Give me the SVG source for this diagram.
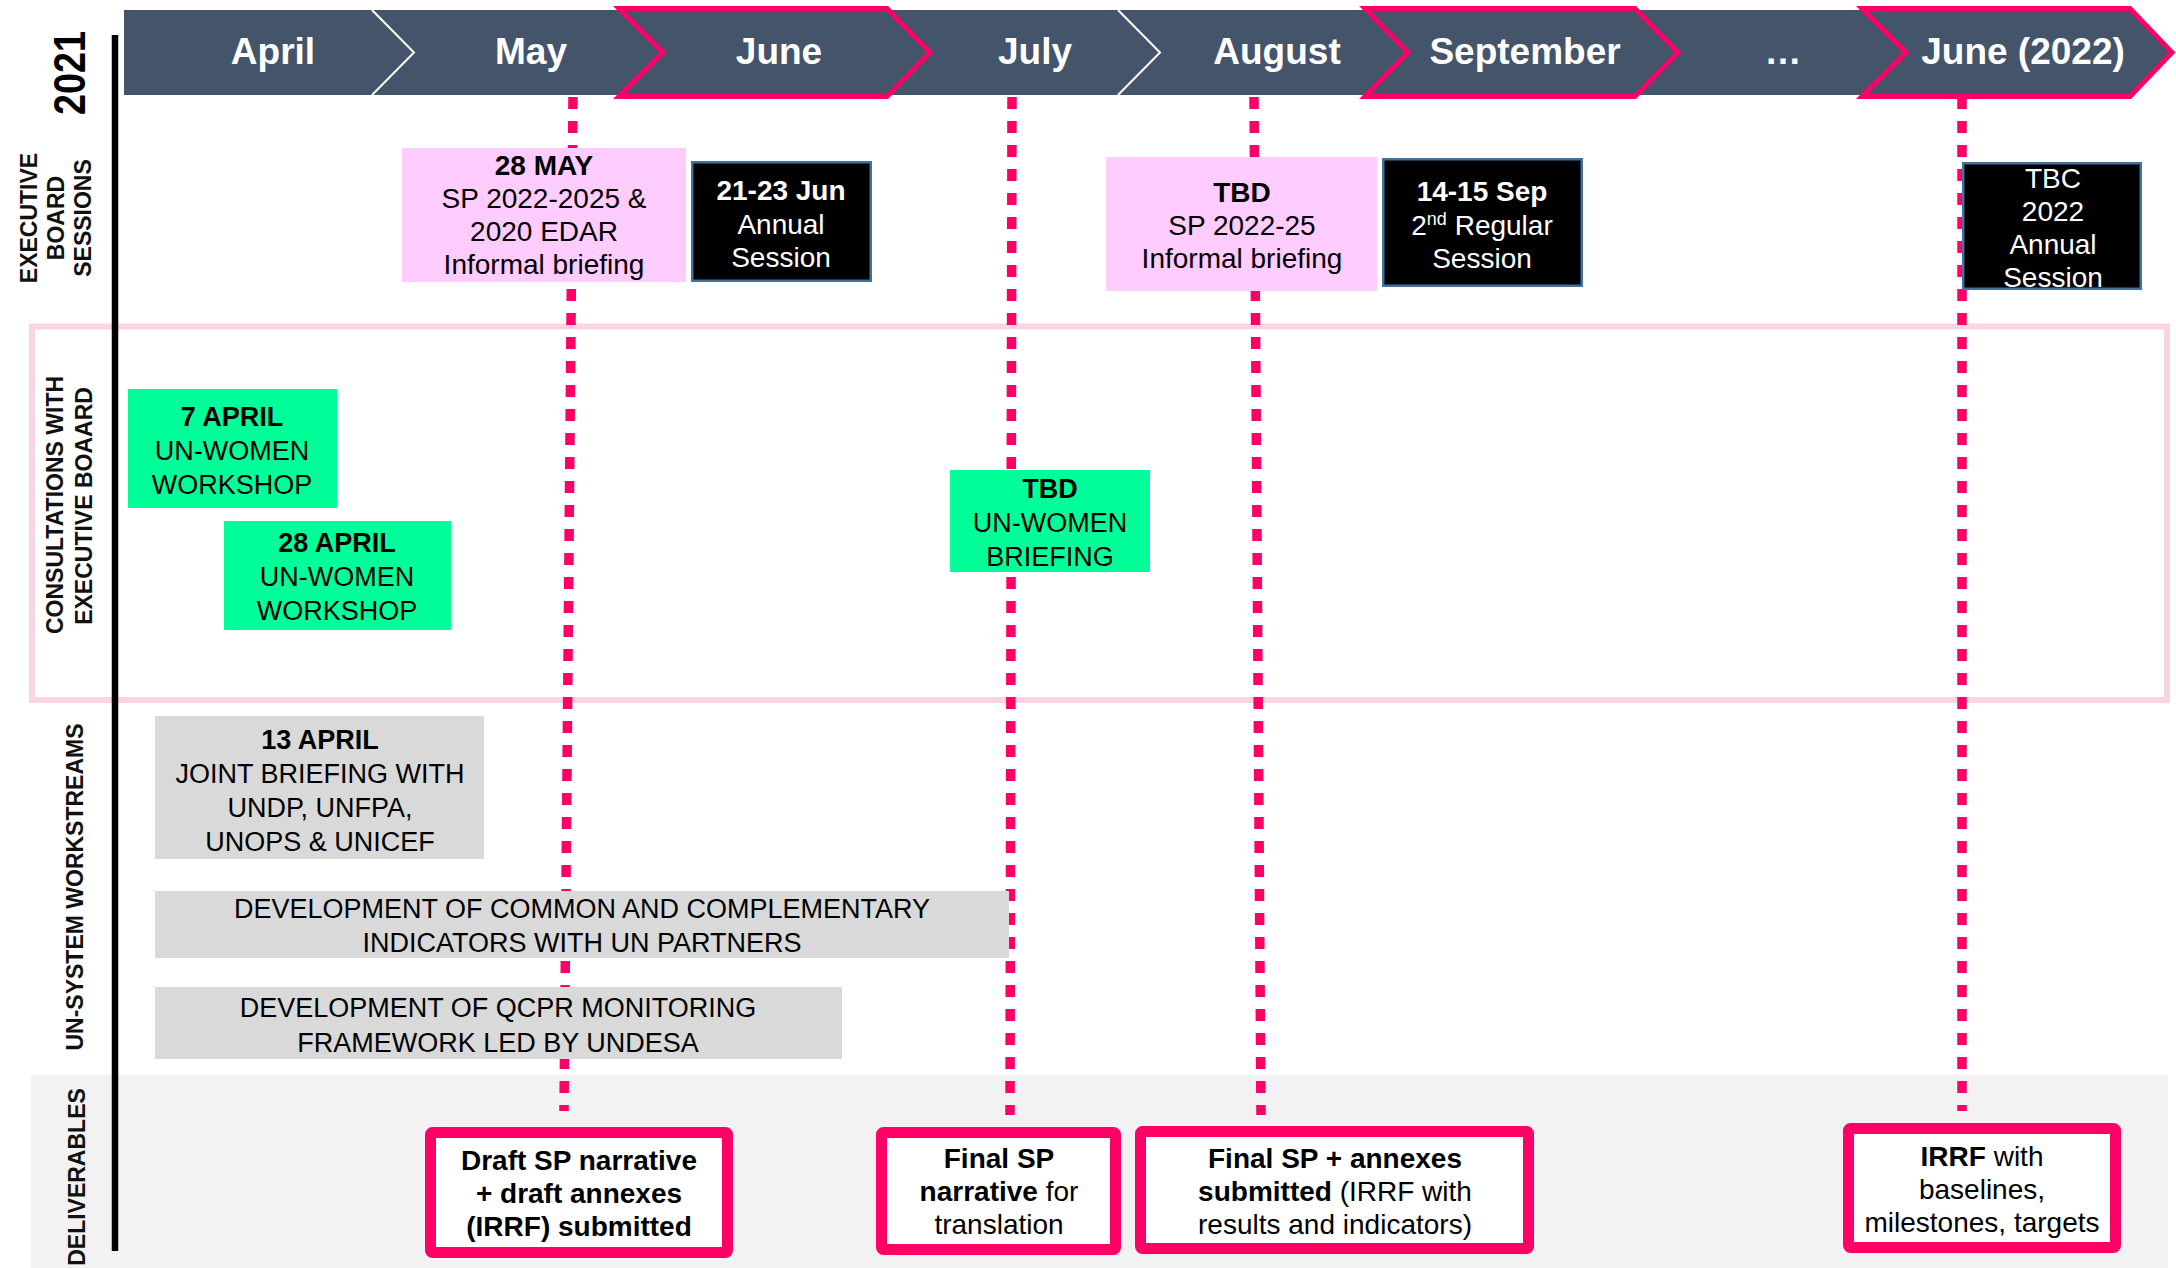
<svg xmlns="http://www.w3.org/2000/svg" width="2176" height="1268" viewBox="0 0 2176 1268">
<defs>
<style>
text{font-family:"Liberation Sans",Arial,sans-serif}
.m{font-size:37px;font-weight:bold;fill:#fff;text-anchor:middle}
.lab{font-size:23px;font-weight:bold;fill:#111;text-anchor:middle}
.t{font-size:28px;fill:#000;text-anchor:middle}
.tw{font-size:28px;fill:#fff;text-anchor:middle}
.t27{font-size:27px;fill:#000;text-anchor:middle}
.b{font-weight:bold}
.pinkbox{fill:#FFCCFF}
.blk{fill:#000;stroke:#41719C;stroke-width:2.5}
.grn{fill:#00FF99}
.gry{fill:#D9D9D9}
.del{fill:#fff;stroke:#FF0066;stroke-width:11}
.dash{stroke:#FF0066;stroke-width:9.5;stroke-dasharray:12 12;fill:none}
.chev{fill:#44546A;stroke:#FF0066;stroke-width:5;stroke-linejoin:miter}
.sep{fill:none;stroke:#fff;stroke-width:2}
</style>
</defs>
<rect x="0" y="0" width="2176" height="1268" fill="#fff"/>

<g id="bands">
<rect x="31" y="1075" width="2137" height="193" fill="#F2F2F2"/>
<rect x="32" y="326.5" width="2135" height="373.5" fill="none" stroke="#F8D5E0" stroke-width="6"/>
</g>

<g id="header">
<polygon fill="#44546A" points="124,10 2132,10 2172,52.5 2132,95 124,95"/>
<polyline class="sep" points="372,10 414,52.5 372,95"/>
<polyline class="sep" points="1118,10 1160,52.5 1118,95"/>
<polygon class="chev" points="619,8.5 887,8.5 930,52.5 887,96.5 619,96.5 663,52.5"/>
<polygon class="chev" points="1365,8.5 1635,8.5 1678,52.5 1635,96.5 1365,96.5 1408,52.5"/>
<polygon class="chev" points="1862,8.5 2130,8.5 2172,52.5 2130,96.5 1862,96.5 1906,52.5"/>
<text class="m" x="273" y="64">April</text>
<text class="m" x="531" y="64">May</text>
<text class="m" x="779" y="64">June</text>
<text class="m" x="1035" y="64">July</text>
<text class="m" x="1277" y="64">August</text>
<text class="m" x="1525" y="64">September</text>
<text class="m" x="1783" y="64">…</text>
<text class="m" x="2023" y="64">June (2022)</text>
</g>

<g id="axis">
<line x1="115" y1="35" x2="115" y2="1251" stroke="#000" stroke-width="6.5"/>
<text transform="translate(85,73) rotate(-90)" font-size="45" font-weight="bold" text-anchor="middle" textLength="84" lengthAdjust="spacingAndGlyphs" fill="#000">2021</text>
</g>

<g id="row-labels">
<text class="lab" transform="translate(37,218) rotate(-90)">EXECUTIVE</text>
<text class="lab" transform="translate(64,218) rotate(-90)">BOARD</text>
<text class="lab" transform="translate(91,218) rotate(-90)">SESSIONS</text>
<text class="lab" transform="translate(63,505) rotate(-90)">CONSULTATIONS WITH</text>
<text class="lab" transform="translate(92,506) rotate(-90)">EXECUTIVE BOAARD</text>
<text class="lab" transform="translate(83,887) rotate(-90)">UN-SYSTEM  WORKSTREAMS</text>
<text class="lab" transform="translate(85,1177) rotate(-90)">DELIVERABLES</text>
</g>

<g id="connectors">
<line class="dash" x1="573" y1="97" x2="564" y2="1111"/>
<line class="dash" x1="1012" y1="97" x2="1010" y2="1115"/>
<line class="dash" x1="1254" y1="97" x2="1261" y2="1115"/>
<line class="dash" x1="1962" y1="97" x2="1962" y2="1111"/>
</g>

<g id="eb-28may">
<rect class="pinkbox" x="402" y="148" width="284" height="134"/>
<text class="t b" x="544" y="175">28 MAY</text>
<text class="t" x="544" y="208">SP 2022-2025 &amp;</text>
<text class="t" x="544" y="241">2020 EDAR</text>
<text class="t" x="544" y="274">Informal briefing</text>
</g>
<g id="eb-jun">
<rect class="blk" x="692.25" y="162.25" width="178.5" height="118.5"/>
<text class="tw b" x="781" y="200">21-23 Jun</text>
<text class="tw" x="781" y="234">Annual</text>
<text class="tw" x="781" y="267">Session</text>
</g>
<g id="eb-tbd">
<rect class="pinkbox" x="1106" y="157" width="271" height="134"/>
<text class="t b" x="1242" y="202">TBD</text>
<text class="t" x="1242" y="235">SP 2022-25</text>
<text class="t" x="1242" y="268">Informal briefing</text>
</g>
<g id="eb-sep">
<rect class="blk" x="1383.25" y="159.25" width="198.5" height="126.5"/>
<text class="tw b" x="1482" y="201">14-15 Sep</text>
<text class="tw" x="1482" y="235">2<tspan font-size="18" dy="-10">nd</tspan><tspan dy="10"> Regular</tspan></text>
<text class="tw" x="1482" y="268">Session</text>
</g>
<g id="eb-tbc">
<rect class="blk" x="1963.25" y="163.25" width="177.5" height="125.5"/>
<text class="tw" x="2053" y="188">TBC</text>
<text class="tw" x="2053" y="221">2022</text>
<text class="tw" x="2053" y="254">Annual</text>
<text class="tw" x="2053" y="287">Session</text>
</g>

<g id="c-7april">
<rect class="grn" x="128" y="389" width="209" height="119"/>
<text class="t27 b" x="232" y="426">7 APRIL</text>
<text class="t27" x="232" y="460">UN-WOMEN</text>
<text class="t27" x="232" y="494">WORKSHOP</text>
</g>
<g id="c-28april">
<rect class="grn" x="224" y="521" width="227" height="109"/>
<text class="t27 b" x="337" y="552">28 APRIL</text>
<text class="t27" x="337" y="586">UN-WOMEN</text>
<text class="t27" x="337" y="620">WORKSHOP</text>
</g>
<g id="c-tbd">
<rect class="grn" x="950" y="470" width="200" height="102"/>
<text class="t27 b" x="1050" y="498">TBD</text>
<text class="t27" x="1050" y="532">UN-WOMEN</text>
<text class="t27" x="1050" y="566">BRIEFING</text>
</g>

<g id="un-13april">
<rect class="gry" x="155" y="716" width="329" height="143"/>
<text class="t27 b" x="320" y="749">13 APRIL</text>
<text class="t27" x="320" y="783">JOINT BRIEFING WITH</text>
<text class="t27" x="320" y="817">UNDP, UNFPA,</text>
<text class="t27" x="320" y="851">UNOPS &amp; UNICEF</text>
</g>
<g id="un-indicators">
<rect class="gry" x="155" y="891" width="854" height="67"/>
<text class="t27" x="582" y="918">DEVELOPMENT OF COMMON AND COMPLEMENTARY</text>
<text class="t27" x="582" y="952">INDICATORS WITH UN PARTNERS</text>
</g>
<g id="un-qcpr">
<rect class="gry" x="155" y="987" width="687" height="72"/>
<text class="t27" x="498" y="1017">DEVELOPMENT OF QCPR MONITORING</text>
<text class="t27" x="498" y="1052">FRAMEWORK LED BY UNDESA</text>
</g>

<g id="d-draft">
<rect class="del" x="430.5" y="1132.5" width="297" height="120" rx="2"/>
<text class="t b" x="579" y="1170">Draft SP narrative</text>
<text class="t b" x="579" y="1203">+ draft annexes</text>
<text class="t b" x="579" y="1236">(IRRF) submitted</text>
</g>
<g id="d-final-narrative">
<rect class="del" x="881.5" y="1132.5" width="234" height="117" rx="2"/>
<text class="t b" x="999" y="1168">Final SP</text>
<text class="t" x="999" y="1201"><tspan class="b">narrative</tspan> for</text>
<text class="t" x="999" y="1234">translation</text>
</g>
<g id="d-final-annexes">
<rect class="del" x="1140.5" y="1131.5" width="388" height="117" rx="2"/>
<text class="t b" x="1335" y="1168">Final SP + annexes</text>
<text class="t" x="1335" y="1201"><tspan class="b">submitted</tspan> (IRRF with</text>
<text class="t" x="1335" y="1234">results and indicators)</text>
</g>
<g id="d-irrf">
<rect class="del" x="1848.5" y="1128.5" width="267" height="119" rx="2"/>
<text class="t" x="1982" y="1166"><tspan class="b">IRRF</tspan> with</text>
<text class="t" x="1982" y="1199">baselines,</text>
<text class="t" x="1982" y="1232">milestones, targets</text>
</g>
</svg>
